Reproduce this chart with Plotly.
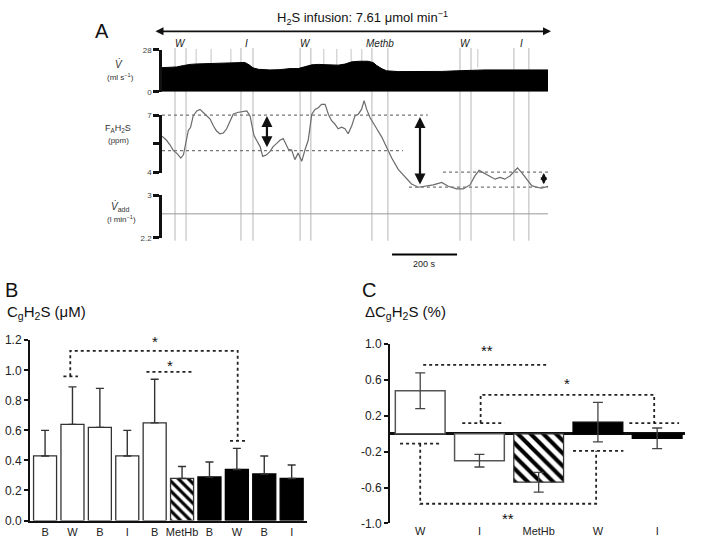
import plotly.graph_objects as go

W, H = 720, 548
def fx(px): return px / W
def fy(py): return 1 - py / H

FONT = "Liberation Sans, Arial, sans-serif"

# ---------------- Panel A data ----------------
vdot_t = [0, 25, 45, 66, 86, 107, 148, 189, 219, 240, 255, 268, 280, 297, 332, 363, 394, 419, 440,
          461, 481, 512, 542, 563, 584, 609, 634, 650, 661, 676, 691, 727, 768, 814, 861, 907, 948,
          994, 1040, 1086, 1138, 1188]
vdot_v = [16.1, 16.3, 16.6, 17.5, 18.3, 18.6, 19.0, 19.0, 19.3, 19.8, 19.6, 18.0, 16.0, 15.0, 14.6,
          14.8, 15.5, 15.5, 16.5, 18.0, 18.3, 18.3, 17.8, 18.5, 20.0, 20.4, 20.4, 19.5, 17.5, 15.5,
          14.0, 13.5, 13.4, 13.5, 13.6, 14.0, 14.5, 14.6, 14.6, 14.6, 14.6, 14.6]

fa_t = [0, 14, 25, 35, 45, 58, 66, 74, 81, 88, 96, 107, 117, 127, 138, 148, 158, 168, 178, 189, 199,
        209, 219, 232, 245, 261, 271, 276, 283, 291, 302, 310, 322, 332, 342, 353, 363, 373, 382, 389,
        399, 409, 419, 430, 440, 450, 461, 471, 481, 491, 502, 512, 522, 532, 542, 553, 563, 573, 584,
        594, 604, 614, 622, 630, 640, 650, 661, 676, 691, 707, 727, 748, 768, 789, 814, 835, 861, 881,
        907, 927, 948, 963, 976, 994, 1009, 1025, 1040, 1055, 1071, 1086, 1094, 1107, 1122, 1138, 1153,
        1168, 1188]
fa_v = [5.90, 5.69, 5.44, 5.15, 5.02, 4.76, 4.93, 5.53, 6.20, 6.37, 6.96, 7.22, 7.30, 7.14, 6.96,
        6.80, 6.45, 6.17, 6.03, 6.07, 6.29, 6.63, 7.05, 7.14, 7.17, 7.22, 6.96, 6.54, 5.95, 5.69, 5.36,
        4.85, 4.93, 5.10, 5.36, 5.53, 5.69, 5.78, 5.50, 5.22, 5.18, 4.68, 5.02, 4.59, 5.18, 5.69, 7.05,
        7.30, 7.39, 7.56, 7.56, 7.05, 6.71, 6.54, 6.29, 6.37, 6.29, 6.03, 6.45, 6.96, 7.05, 7.30, 7.76,
        7.30, 6.88, 6.63, 6.29, 5.87, 5.36, 4.76, 4.17, 3.75, 3.41, 3.24, 3.29, 3.36, 3.49, 3.29, 3.15,
        3.15, 3.36, 3.83, 4.12, 3.96, 3.83, 3.66, 3.75, 3.66, 3.83, 4.08, 4.25, 4.00, 3.66, 3.32, 3.24,
        3.19, 3.29]

vadd_t = [0, 1188]
vadd_v = [2.65, 2.65]

event_t = [40, 74, 243, 280, 425, 458, 646, 695, 917, 951, 1083, 1129]
event_labels = ["W", "I", "W", "Methb", "W", "I"]
minor_event_t = [105, 151, 212, 498, 538, 582, 615, 972]

ref_levels = [7.0, 5.15, 3.24, 4.03]
ref_t0 = [0, 0, 760, 865]
ref_t1 = [818, 742, 1188, 1188]

arrow_t = [323, 794, 1175]
arrow_top = [6.95, 6.90, 3.98]
arrow_bot = [5.25, 3.30, 3.32]
arrow_size = [1.0, 1.0, 0.6]

scale_t0, scale_len = 708, 200

# ---------------- Panel B data ----------------
b_cats = ["B", "W", "B", "I", "B", "MetHb", "B", "W", "B", "I"]
b_vals = [0.43, 0.64, 0.62, 0.43, 0.65, 0.28, 0.29, 0.34, 0.31, 0.28]
b_err = [0.17, 0.25, 0.26, 0.17, 0.29, 0.08, 0.10, 0.14, 0.12, 0.09]
b_style = ["open"] * 5 + ["hatch"] + ["solid"] * 4

sigB_x = [0.67, 1.2, None, 0.92, 0.92, 7.03, 7.03, None, 6.75, 7.34, None, 3.7, 5.45]
sigB_y = [0.96, 0.96, None, 0.96, 1.13, 1.13, 0.53, None, 0.53, 0.53, None, 0.99, 0.99]
starB_text = ["*", "*"]
starB_x = [4.01, 4.56]
starB_y = [1.19, 1.03]

# ---------------- Panel C data ----------------
c_cats = ["W", "I", "MetHb", "W", "I"]
c_vals = [0.48, -0.30, -0.54, 0.13, -0.05]
c_err = [0.20, 0.07, 0.11, 0.22, 0.115]
c_style = ["open", "open", "hatch", "solid", "solid"]

sigC_x = [0.05, 2.16, None,
          0.71, 1.42, None, 1.02, 1.02, 3.95, 3.95, None, 3.53, 4.37, None,
          -0.34, 0.34, None, 0.0, 0.0, 2.97, 2.97, None, 2.58, 3.43]
sigC_y = [0.77, 0.77, None,
          0.12, 0.12, None, 0.12, 0.435, 0.435, 0.12, None, 0.12, 0.12, None,
          -0.11, -0.11, None, -0.11, -0.78, -0.78, -0.19, None, -0.19, -0.19]
starC_text = ["**", "*", "**"]
starC_x = [1.13, 2.48, 1.49]
starC_y = [0.93, 0.565, -0.95]

fig = go.Figure()

# ---- Panel A traces ----
fig.add_trace(go.Scatter(x=vdot_t, y=vdot_v, mode="lines", fill="tozeroy", fillcolor="black",
                         line=dict(color="black", width=1), xaxis="x", yaxis="y", hoverinfo="skip"))
fig.add_trace(go.Scatter(x=fa_t, y=fa_v, mode="lines", line=dict(color="#6a6a6a", width=1.2),
                         xaxis="x", yaxis="y2", hoverinfo="skip"))
for lv, t0, t1 in zip(ref_levels, ref_t0, ref_t1):
    fig.add_trace(go.Scatter(x=[t0, t1], y=[lv, lv], mode="lines",
                             line=dict(color="#777", width=1.2, dash="dot"),
                             xaxis="x", yaxis="y2", hoverinfo="skip"))
fig.add_trace(go.Scatter(x=vadd_t, y=vadd_v, mode="lines", line=dict(color="#999", width=1),
                         xaxis="x", yaxis="y3", hoverinfo="skip"))
# dummy for FaH2S bracket axis
fig.add_trace(go.Scatter(x=[0.5], y=[5.5], mode="markers", marker=dict(opacity=0),
                         xaxis="x2", yaxis="y4", hoverinfo="skip"))

# ---- Panel B bars ----
def style_marker(style):
    if style == "open":
        return dict(color="white", line=dict(color="#333", width=1.3))
    if style == "hatch":
        return dict(color="white", line=dict(color="#333", width=1.3),
                    pattern=dict(shape="\\", fgcolor="black", bgcolor="white", size=7,
                                 solidity=0.45, fgopacity=1, fillmode="overlay"))
    return dict(color="black", line=dict(color="black", width=1.3))

for st in ["open", "hatch", "solid"]:
    idx = [i for i, s in enumerate(b_style) if s == st]
    fig.add_trace(go.Bar(x=idx, y=[b_vals[i] for i in idx], width=0.84,
                         marker=style_marker(st),
                         error_y=dict(type="data", symmetric=False,
                                      array=[b_err[i] for i in idx],
                                      arrayminus=[0] * len(idx),
                                      color="#333", thickness=1.4, width=4),
                         xaxis="x3", yaxis="y5", hoverinfo="skip"))
fig.add_trace(go.Scatter(x=sigB_x, y=sigB_y, mode="lines",
                         line=dict(color="#222", width=1.8, dash="dot"),
                         xaxis="x3", yaxis="y5", hoverinfo="skip"))

# ---- Panel C bars ----
for st in ["open", "hatch", "solid"]:
    idx = [i for i, s in enumerate(c_style) if s == st]
    mk = style_marker(st)
    if st == "open":
        mk["line"] = dict(color="#555", width=1.5)
    if st == "hatch":
        mk["pattern"]["size"] = 9
    fig.add_trace(go.Bar(x=idx, y=[c_vals[i] for i in idx], width=0.84,
                         marker=mk,
                         error_y=dict(type="data", array=[c_err[i] for i in idx],
                                      color="#444", thickness=1.3, width=5),
                         xaxis="x4", yaxis="y6", hoverinfo="skip"))
fig.add_trace(go.Scatter(x=sigC_x, y=sigC_y, mode="lines",
                         line=dict(color="#222", width=1.8, dash="dot"),
                         xaxis="x4", yaxis="y6", hoverinfo="skip"))

# ---- shapes ----
shapes = []
for t in event_t:
    shapes.append(dict(type="line", xref="x", yref="paper", x0=t, x1=t, y0=fy(240), y1=fy(42),
                       line=dict(color="#cfcfcf", width=1.5), layer="below"))
for t in minor_event_t:
    shapes.append(dict(type="line", xref="x", yref="paper", x0=t, x1=t, y0=fy(62), y1=fy(43),
                       line=dict(color="#c4c4c4", width=1), layer="below"))
shapes.append(dict(type="line", xref="x", yref="paper", x0=scale_t0, x1=scale_t0 + scale_len,
                   y0=fy(254), y1=fy(254), line=dict(color="black", width=2)))

# ---- annotations ----
ann = []
def txt(text, px, py, size, xanchor="center", color="#111", **kw):
    ann.append(dict(text=text, x=fx(px), y=fy(py), xref="paper", yref="paper", showarrow=False,
                    xanchor=xanchor, yanchor="middle", font=dict(size=size, family=FONT, color=color), **kw))

txt("A", 102, 25, 20)
txt("B", 11, 290, 20)
txt("C", 369, 290, 20)
txt("H<sub>2</sub>S infusion: 7.61 μmol min<sup>−1</sup>", 362, 11, 13)
ann.append(dict(text="", x=fx(551), y=fy(25), ax=-(551 - 154), ay=0, xref="paper", yref="paper",
                axref="pixel", ayref="pixel", showarrow=True, arrowhead=2, arrowside="end+start",
                arrowsize=1, arrowwidth=1.6, arrowcolor="#111", standoff=0, startstandoff=0))
for k, lab in enumerate(event_labels):
    tm = (event_t[2 * k] + event_t[2 * k + 1]) / 2
    ann.append(dict(text="<i>" + lab + "</i>", x=tm, y=fy(37), xref="x", yref="paper",
                    xanchor="center", yanchor="middle",
                    showarrow=False, font=dict(size=10, family=FONT, color="#222")))
for t, a, b, sz in zip(arrow_t, arrow_top, arrow_bot, arrow_size):
    ann.append(dict(text="", x=t, y=a, ax=t, ay=b, xref="x", yref="y2", axref="x", ayref="y2",
                    showarrow=True, arrowhead=2, arrowside="end+start", arrowsize=sz,
                    arrowwidth=2.2, arrowcolor="#111", standoff=0, startstandoff=0))
ann.append(dict(text="200 s", x=scale_t0 + scale_len / 2, y=fy(264), xref="x", yref="paper",
                xanchor="center", yanchor="middle",
                showarrow=False, font=dict(size=9, family=FONT, color="#222")))
txt("<i>V̇</i>", 119, 59, 10, color="#333")
txt("(ml s<sup>−1</sup>)", 120, 72, 8, color="#333")
txt("F<sub>A</sub>H<sub>2</sub>S", 118, 125, 9, color="#333")
txt("(ppm)", 118, 137, 8, color="#333")
txt("<i>V̇</i><sub>add</sub>", 120, 205, 10, color="#333")
txt("(l min<sup>−1</sup>)", 121, 218, 8, color="#333")
txt("C<sub>g</sub>H<sub>2</sub>S (μM)", 5, 313, 15, xanchor="left")
txt("ΔC<sub>g</sub>H<sub>2</sub>S (%)", 363, 313, 15, xanchor="left")
for s, x, y in zip(starB_text, starB_x, starB_y):
    ann.append(dict(text=s, x=x, y=y, xref="x3", yref="y5", showarrow=False,
                    xanchor="center", yanchor="middle",
                    font=dict(size=15, family=FONT, color="#111")))
for s, x, y in zip(starC_text, starC_x, starC_y):
    ann.append(dict(text=s, x=x, y=y, xref="x4", yref="y6", showarrow=False,
                    xanchor="center", yanchor="middle",
                    font=dict(size=15, family=FONT, color="#111")))

bracket = dict(showline=True, linewidth=2.5, linecolor="#111", ticks="outside", ticklen=6,
               tickwidth=2.5, tickcolor="#111", showgrid=False, zeroline=False,
               tickfont=dict(size=8, family=FONT, color="#444"), anchor="free", position=fx(160))

fa_lo = 4 - (192 - 170) * 3 / 59
fa_hi = 7 + (111 - 95) * 3 / 59

fig.update_layout(
    width=W, height=H, margin=dict(l=0, r=0, t=0, b=0),
    paper_bgcolor="white", plot_bgcolor="rgba(0,0,0,0)", showlegend=False,
    barmode="overlay", font=dict(family=FONT),
    xaxis=dict(domain=[fx(162), fx(548)], range=[0, 1188], visible=False, anchor="y"),
    yaxis=dict(domain=[fy(87), fy(44)], range=[0, 28], tickvals=[0, 28], **bracket),
    yaxis2=dict(domain=[fy(192), fy(95)], range=[fa_lo, fa_hi], visible=False, anchor="x"),
    yaxis3=dict(domain=[fy(237), fy(193)], range=[2.2, 3.0], tickvals=[2.2, 3], ticktext=["2.2", "3"], **bracket),
    xaxis2=dict(domain=[fx(162), fx(548)], range=[0, 1], visible=False, anchor="y4"),
    yaxis4=dict(domain=[fy(170), fy(111)], range=[4, 7], tickvals=[4, 5.5, 7], ticktext=["4", "", "7"], **bracket),
    xaxis3=dict(domain=[fx(30), fx(307)], range=[-0.55, 9.56], tickvals=list(range(10)), ticktext=b_cats,
                showline=True, linewidth=2, linecolor="#111", ticks="", showgrid=False, zeroline=False,
                tickfont=dict(size=11, family=FONT, color="#222"), anchor="y5"),
    yaxis5=dict(domain=[fy(527), fy(342)], range=[0, 1.2], tickvals=[0, 0.2, 0.4, 0.6, 0.8, 1.0, 1.2],
                tickformat=".1f", showline=True, linewidth=2, linecolor="#111", ticks="outside",
                ticklen=4, tickwidth=1.5, tickcolor="#111", showgrid=False, zeroline=False,
                tickfont=dict(size=12, family=FONT, color="#222"), anchor="x3"),
    xaxis4=dict(domain=[fx(390), fx(685)], range=[-0.51, 4.47], tickvals=list(range(5)), ticktext=c_cats,
                showline=False, ticks="", showgrid=False, zeroline=False,
                tickfont=dict(size=11, family=FONT, color="#222"), anchor="y6"),
    yaxis6=dict(domain=[fy(530), fy(346)], range=[-1, 1], tickvals=[-1, -0.6, -0.2, 0.2, 0.6, 1.0],
                ticktext=["-1.0", "-0.6", "-0.2", "0.2", "0.6", "1.0"], showline=True, linewidth=2,
                linecolor="#111", ticks="outside", ticklen=4, tickwidth=1.5, tickcolor="#111",
                showgrid=False, zeroline=True, zerolinewidth=2.5, zerolinecolor="#111",
                tickfont=dict(size=12, family=FONT, color="#222"), anchor="x4"),
    shapes=shapes, annotations=ann,
)

fig.write_html("out.html", config={"displayModeBar": False},
               post_script="document.body.style.margin='0px';")
